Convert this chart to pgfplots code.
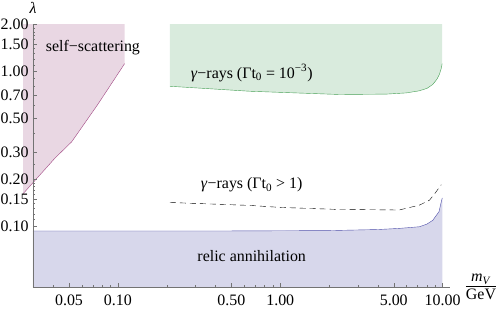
\documentclass[border=0pt]{standalone}
\usepackage{pgfplots}
\pgfplotsset{compat=1.18}
\usepackage{fontspec}
\setmainfont{Liberation Serif}
\definecolor{pinkfill}{RGB}{233,215,227}
\definecolor{pinkline}{RGB}{160,70,130}
\definecolor{greenfill}{RGB}{217,235,221}
\definecolor{greenline}{RGB}{70,160,85}
\definecolor{bluefill}{RGB}{215,215,235}
\definecolor{blueline}{RGB}{80,80,170}
\begin{document}
\fontsize{16}{19}\selectfont
\begin{tikzpicture}
\begin{axis}[
  at={(0,0)}, anchor=south west,
  scale only axis, width=417bp, height=263bp,
  xmode=log, ymode=log,
  xmin=0.03, xmax=11.1, ymin=0.0404, ymax=2.02,
  axis lines=left, axis line style={-, black!55},
  clip=false, axis on top,
  xtick={0.05,0.1,0.5,1,5,10},
  xticklabels={0.05,0.10,0.50,1.00,5.00,10.00},
  ytick={0.1,0.15,0.2,0.3,0.5,0.7,1,1.5,2},
  yticklabels={0.10,0.15,0.20,0.30,0.50,0.70,1.00,1.50,2.00},
  minor xtick={0.04,0.06,0.07,0.08,0.09,0.2,0.3,0.4,0.6,0.7,0.8,0.9,2,3,4,6,7,8,9},
  minor ytick={0.11,0.12,0.13,0.14,0.16,0.17,0.18,0.19,0.25,0.4,0.6,0.8,0.9,1.1,1.2,1.3,1.4,1.6,1.7,1.8,1.9},
  major tick length=4.5bp, minor tick length=2.5bp,
  tick style={black!55, thin},
  tick align=inside,
  xticklabel style={yshift=-2bp},
  yticklabel style={xshift=1bp},
]
% self-scattering
\addplot[draw=none, fill=pinkfill] coordinates {
  (0.0261,2.02) (0.0261,0.162) (0.0410,0.275) (0.0519,0.350) (0.0753,0.612) (0.110,1.12) (0.110,2.02)} -- cycle;
\addplot[pinkline, thin] coordinates {
  (0.0261,0.162) (0.0410,0.275) (0.0519,0.350) (0.0753,0.612) (0.110,1.12)};
% gamma rays 10^-3
\addplot[draw=none, fill=greenfill] coordinates {
  (0.209,2.02) (0.209,0.80) (0.647,0.743) (2.31,0.708) (4.5,0.712) (6.0,0.725) (7.18,0.748) (8.0,0.775) (8.67,0.820) (9.2,0.885) (9.53,0.95) (9.8,1.04) (9.93,1.12) (9.93,2.02)} -- cycle;
\addplot[greenline, thin] coordinates {
  (0.209,0.80) (0.647,0.743) (2.31,0.708) (4.5,0.712) (6.0,0.725) (7.18,0.748) (8.0,0.775) (8.67,0.820) (9.2,0.885) (9.53,0.95) (9.8,1.04) (9.93,1.12)};
% relic annihilation
\addplot[draw=none, fill=bluefill] coordinates {
  (0.03,0.0404) (0.03,0.093) (0.5,0.093) (2,0.0935) (4,0.095) (5.4,0.0966) (7.2,0.099) (8,0.103) (8.7,0.109) (9.5,0.124) (9.8,0.143) (9.95,0.152) (9.95,0.0404)} -- cycle;
\addplot[blueline, thin] coordinates {
  (0.03,0.093) (0.5,0.093) (2,0.0935) (4,0.095) (5.4,0.0966) (7.2,0.099) (8,0.103) (8.7,0.109) (9.5,0.124) (9.8,0.143) (9.95,0.152)};
% gamma rays > 1 (dashed)
\addplot[black, thin, dash pattern=on 6bp off 4bp] coordinates {
  (0.209,0.142) (0.647,0.136) (1,0.132) (2.3,0.128) (5.4,0.127) (7.2,0.1366) (8.3,0.147) (9.1,0.166) (9.8,0.185)};
% labels
\node at (axis cs:0.0702,1.43) {self−scattering};
\node at (axis cs:0.667,0.975) {\textit{γ}−rays (Γt\textsubscript{0} = 10\textsuperscript{−3})};
\node at (axis cs:0.667,0.184) {\textit{γ}−rays (Γt\textsubscript{0} > 1)};
\node at (axis cs:0.667,0.064) {relic annihilation};
\node at ([yshift=16bp]rel axis cs:0,1) {\textit{λ}};
\node at ([xshift=31bp]rel axis cs:1,0) {\begin{tabular}{@{}c@{}}\textit{m}\textsubscript{\textit{V}}\\[-1pt]\hline\rule{0pt}{12pt}GeV\end{tabular}};
\end{axis}
\pgfresetboundingbox
\path[use as bounding box] (-33bp,-22bp) rectangle (465bp,287bp);
\end{tikzpicture}
\end{document}
